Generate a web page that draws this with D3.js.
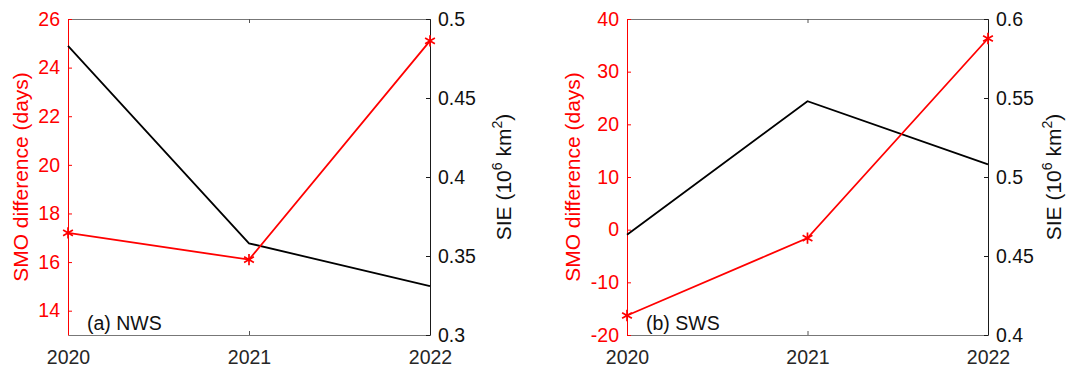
<!DOCTYPE html>
<html>
<head>
<meta charset="utf-8">
<script src="https://cdn.jsdelivr.net/npm/d3@7"></script>
<style>
  body { margin: 0; background: #fff; }
  svg { font-family: "Liberation Sans", Arial, sans-serif; }
</style>
</head>
<body>
<div id="chart"></div>
<script>

// data
const years = [2020, 2021, 2022]

const smoNWS = [17.2, 16.1, 25.1]
const sieNWS = [0.483, 0.358, 0.331]

const smoSWS = [-16.3, -1.6, 36.3]
const sieSWS = [0.4635, 0.548, 0.508]

const smoTicksNWS = [14, 16, 18, 20, 22, 24, 26]
const sieTicksNWS = [0.3, 0.35, 0.4, 0.45, 0.5]
const smoTicksSWS = [-20, -10, 0, 10, 20, 30, 40]
const sieTicksSWS = [0.4, 0.45, 0.5, 0.55, 0.6]

const W = 1072, H = 367
const plotTop = 19, plotBottom = 335

const svg = d3.select("#chart").append("svg")
    .attr("width", W)
    .attr("height", H)

// plain number labels like matlab (0.5, -20)
const fmt = d => String(d)

function drawPanel(p) {
    const g = svg.append("g")

    const x = d3.scaleLinear().domain([2020, 2022]).range([p.left, p.right])
    const yL = d3.scaleLinear().domain(p.smoDomain).range([plotBottom, plotTop])
    const yR = d3.scaleLinear().domain(p.sieDomain).range([plotBottom, plotTop])

    // top and bottom box lines
    g.append("g")
        .attr("transform", `translate(0,${plotTop})`)
        .call(d3.axisTop(x).tickValues(years).tickSizeInner(-4).tickSizeOuter(0).tickFormat(""))
        .call(a => a.select(".domain").attr("stroke", "#777"))
        .call(a => a.selectAll(".tick line").attr("stroke", "#555"))

    g.append("g")
        .attr("transform", `translate(0,${plotBottom})`)
        .call(d3.axisBottom(x).tickValues(years).tickSizeInner(-4).tickSizeOuter(0)
            .tickPadding(15).tickFormat(fmt))
        .call(a => a.select(".domain").attr("stroke", "#777"))
        .call(a => a.selectAll(".tick line").attr("stroke", "#555"))
        .call(a => a.selectAll("text").attr("fill", "#262626").style("font-size", "19.5px"))

    // left axis (SMO, red)
    g.append("g")
        .attr("transform", `translate(${p.left},0)`)
        .call(d3.axisLeft(yL).tickValues(p.smoTicks).tickSizeInner(-4).tickSizeOuter(0)
            .tickPadding(8).tickFormat(fmt))
        .call(a => a.select(".domain").attr("stroke", "#ff0000"))
        .call(a => a.selectAll(".tick line").attr("stroke", "#ff0000"))
        .call(a => a.selectAll("text").attr("fill", "#ff0000").style("font-size", "19.5px"))

    // right axis (SIE, black)
    g.append("g")
        .attr("transform", `translate(${p.right},0)`)
        .call(d3.axisRight(yR).tickValues(p.sieTicks).tickSizeInner(-4).tickSizeOuter(0)
            .tickPadding(8).tickFormat(fmt))
        .call(a => a.select(".domain").attr("stroke", "#1a1a1a"))
        .call(a => a.selectAll(".tick line").attr("stroke", "#1a1a1a"))
        .call(a => a.selectAll("text").attr("fill", "#111").style("font-size", "19.5px"))

    g.selectAll("g").attr("font-family", null)

    // SIE line
    const sieLine = d3.line().x((d, i) => x(years[i])).y(d => yR(d))
    g.append("path")
        .datum(p.sie)
        .attr("d", sieLine)
        .attr("fill", "none")
        .attr("stroke", "#000")
        .attr("stroke-width", 1.8)

    // SMO line with asterisk markers
    const smoLine = d3.line().x((d, i) => x(years[i])).y(d => yL(d))
    g.append("path")
        .datum(p.smo)
        .attr("d", smoLine)
        .attr("fill", "none")
        .attr("stroke", "#ff0000")
        .attr("stroke-width", 1.8)

    const star = d3.symbol().type(d3.symbolAsterisk).size(90)
    g.selectAll(".mark")
        .data(p.smo)
        .join("path")
        .attr("class", "mark")
        .attr("transform", (d, i) => `translate(${x(years[i])},${yL(d)})`)
        .attr("d", star)
        .attr("fill", "none")
        .attr("stroke", "#ff0000")
        .attr("stroke-width", 1.7)

    // axis titles
    g.append("text")
        .attr("transform", `translate(${p.leftLabelX},${(plotTop + plotBottom) / 2}) rotate(-90)`)
        .attr("text-anchor", "middle")
        .attr("fill", "#ff0000")
        .style("font-size", "21px")
        .text("SMO difference (days)")

    const rl = g.append("text")
        .attr("transform", `translate(${p.rightLabelX},${(plotTop + plotBottom) / 2}) rotate(-90)`)
        .attr("text-anchor", "middle")
        .attr("fill", "#111")
        .style("font-size", "21px")
    rl.append("tspan").text("SIE (10")
    rl.append("tspan").attr("dy", -9).style("font-size", "14px").text("6")
    rl.append("tspan").attr("dy", 9).text(" km")
    rl.append("tspan").attr("dy", -9).style("font-size", "14px").text("2")
    rl.append("tspan").attr("dy", 9).text(")")

    // panel tag
    g.append("text")
        .attr("x", p.left + 19)
        .attr("y", 330)
        .attr("fill", "#111")
        .style("font-size", "19.5px")
        .text(p.tag)
}

drawPanel({
    left: 68, right: 430,
    smoDomain: [13, 26], sieDomain: [0.3, 0.5],
    smoTicks: smoTicksNWS, sieTicks: sieTicksNWS,
    smo: smoNWS, sie: sieNWS,
    leftLabelX: 28, rightLabelX: 511,
    tag: "(a) NWS"
})

drawPanel({
    left: 627, right: 988,
    smoDomain: [-20, 40], sieDomain: [0.4, 0.6],
    smoTicks: smoTicksSWS, sieTicks: sieTicksSWS,
    smo: smoSWS, sie: sieSWS,
    leftLabelX: 580, rightLabelX: 1061,
    tag: "(b) SWS"
})

</script>
</body>
</html>
